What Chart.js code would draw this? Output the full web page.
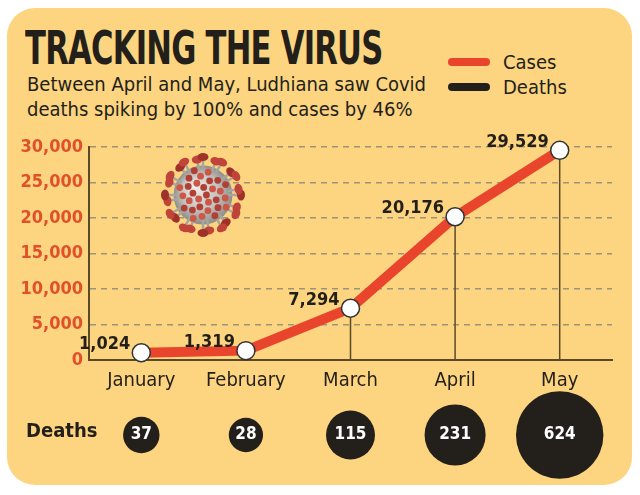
<!DOCTYPE html>
<html>
<head>
<meta charset="utf-8">
<script src="https://cdn.jsdelivr.net/npm/chart.js@4.4.0/dist/chart.umd.min.js"></script>
<style>
  body { margin:0; background:#fff; width:640px; height:495px; overflow:hidden; position:relative;
         font-family:'DejaVu Sans Condensed','Liberation Sans Narrow','DejaVu Sans',sans-serif; color:#231f1a; }
  #panel { position:absolute; left:7px; top:8px; width:625px; height:477px; background:#FDD47F; border-radius:28px; }
  #title { position:absolute; left:25px; top:25px; font-weight:bold; font-size:46px; line-height:46px; letter-spacing:-1px;
           white-space:nowrap; transform:scaleX(0.74); transform-origin:left top; }
  #sub { position:absolute; left:27px; top:72px; font-size:20px; line-height:25px; white-space:nowrap; }
  .leg { position:absolute; left:448px; width:42px; height:8px; border-radius:4px; }
  .legtxt { position:absolute; left:503px; font-size:20px; line-height:24px; }
  #chart { position:absolute; left:0; top:125px; }
</style>
</head>
<body>
<div id="panel"></div>
<div id="title">TRACKING THE VIRUS</div>
<div id="sub">Between April and May, Ludhiana saw Covid<br>deaths spiking by 100% and cases by 46%</div>
<div class="leg" style="top:58px;background:#E8452C"></div>
<div class="legtxt" style="top:50px">Cases</div>
<div class="leg" style="top:83px;background:#231f1a"></div>
<div class="legtxt" style="top:75px">Deaths</div>
<canvas id="chart" width="640" height="370"></canvas>
<script>
let months = ['January', 'February', 'March', 'April', 'May']
let cases = [1024, 1319, 7294, 20176, 29529]
let deaths = [37, 28, 115, 231, 624]
let yTicks = [0, 5000, 10000, 15000, 20000, 25000, 30000]

let fontFam = "'DejaVu Sans Condensed','Liberation Sans Narrow','DejaVu Sans',sans-serif"
let red = '#E8452C'
let dark = '#231f1a'
let axisColor = '#5b4a2a'

function fmt(n) {
    return n.toLocaleString('en-US')
}

// vertical lines from each point down to the axis + the virus picture
const dropLines = {
    id: 'dropLines',
    beforeDatasetsDraw(chart) {
        let ctx = chart.ctx
        let area = chart.chartArea
        drawVirus(ctx, area.left + 114, area.top + 48, 42)
        let meta = chart.getDatasetMeta(0)
        ctx.save()
        ctx.strokeStyle = axisColor
        ctx.lineWidth = 1.5
        meta.data.forEach(pt => {
            ctx.beginPath()
            ctx.moveTo(pt.x, pt.y)
            ctx.lineTo(pt.x, area.bottom)
            ctx.stroke()
        })
        ctx.restore()
    },
    afterDatasetsDraw(chart) {
        let ctx = chart.ctx
        let meta = chart.getDatasetMeta(0)
        ctx.save()
        ctx.font = 'bold 18px ' + fontFam
        ctx.fillStyle = dark
        ctx.textAlign = 'right'
        ctx.textBaseline = 'middle'
        meta.data.forEach((pt, i) => {
            ctx.fillText(fmt(cases[i]), pt.x - 11, pt.y - 8)
        })
        ctx.restore()
    }
}

// the deaths row under the month labels
const deathRow = {
    id: 'deathRow',
    afterDraw(chart) {
        let ctx = chart.ctx
        let xs = chart.scales.x
        let cy = chart.chartArea.bottom + 75
        ctx.save()
        ctx.fillStyle = dark
        ctx.font = 'bold 20px ' + fontFam
        ctx.textAlign = 'left'
        ctx.textBaseline = 'middle'
        ctx.fillText('Deaths', 26, cy - 3)
        deaths.forEach((d, i) => {
            let x = xs.getPixelForValue(i)
            let r = 10 + 1.35 * Math.sqrt(d)
            ctx.fillStyle = dark
            ctx.beginPath()
            ctx.arc(x, cy, r, 0, Math.PI * 2)
            ctx.fill()
            ctx.fillStyle = '#fff'
            ctx.font = 'bold 17px ' + fontFam
            ctx.textAlign = 'center'
            ctx.fillText(d, x, cy)
        })
        ctx.restore()
    }
}

function drawVirus(ctx, cx, cy, r) {
    ctx.save()
    let core = r * 0.7
    let g = ctx.createRadialGradient(cx - 8, cy - 8, 2, cx, cy, core)
    g.addColorStop(0, '#ecebe6')
    g.addColorStop(0.6, '#c3c2bc')
    g.addColorStop(1, '#8f8d88')
    ctx.fillStyle = g
    ctx.beginPath()
    ctx.arc(cx, cy, core, 0, Math.PI * 2)
    ctx.fill()
    // spikes on the rim
    let n = 24
    for (let i = 0; i < n; i++) {
        let a = i * Math.PI * 2 / n + (i % 2) * 0.1
        let out = (i % 2) ? r - 6 : r - 4
        let x1 = cx + Math.cos(a) * core * 0.85, y1 = cy + Math.sin(a) * core * 0.85
        let x2 = cx + Math.cos(a) * out, y2 = cy + Math.sin(a) * out
        ctx.strokeStyle = '#a7a5a0'
        ctx.lineWidth = 2.5
        ctx.beginPath()
        ctx.moveTo(x1, y1)
        ctx.lineTo(x2, y2)
        ctx.stroke()
        ctx.fillStyle = i % 3 == 0 ? '#9e3128' : '#c0443a'
        ctx.beginPath()
        ctx.ellipse(x2, y2, 5.5, 4, a + Math.PI / 2, 0, Math.PI * 2)
        ctx.fill()
    }
    // spikes facing us
    let m = 30
    for (let i = 0; i < m; i++) {
        let a = i * 2.39996
        let d = core * 0.9 * Math.sqrt((i + 0.5) / m)
        ctx.fillStyle = i % 2 == 0 ? '#b13f35' : '#cc5648'
        ctx.beginPath()
        ctx.arc(cx + Math.cos(a) * d, cy + Math.sin(a) * d, 3.4, 0, Math.PI * 2)
        ctx.fill()
    }
    ctx.restore()
}

let ctx = document.getElementById('chart').getContext('2d')
let chart = new Chart(ctx, {
    type: 'line',
    data: {
        labels: months,
        datasets: [{
            label: 'Cases',
            data: cases,
            borderColor: red,
            borderWidth: 10,
            tension: 0,
            pointRadius: 9,
            pointBackgroundColor: '#fff',
            pointBorderColor: '#333',
            pointBorderWidth: 1.5,
            clip: false
        }]
    },
    options: {
        responsive: false,
        animation: false,
        layout: { padding: { top: 22, right: 28, bottom: 105, left: 0 } },
        plugins: { legend: { display: false }, tooltip: { enabled: false } },
        scales: {
            x: {
                offset: true,
                grid: { display: false, drawTicks: false },
                border: { display: true, color: axisColor, width: 2 },
                ticks: { color: dark, padding: 9, font: { family: fontFam, size: 20 } },
                afterFit: function (scale) { scale.height = 30 }
            },
            y: {
                min: 0,
                max: 30000,
                afterBuildTicks: function (scale) { scale.ticks = yTicks.map(v => ({ value: v })) },
                grid: {
                    drawTicks: false,
                    lineWidth: 1.5,
                    color: c => c.tick.value === 0 ? 'rgba(0,0,0,0)' : '#9c9478'
                },
                border: { display: true, color: axisColor, width: 2, dash: [6, 5] },
                ticks: {
                    color: '#E0502A',
                    padding: 6,
                    font: { family: fontFam, size: 18, weight: 'bold' },
                    callback: v => fmt(v)
                },
                afterFit: function (scale) { scale.width = 89 }
            }
        }
    },
    plugins: [dropLines, deathRow]
})
</script>
</body>
</html>
